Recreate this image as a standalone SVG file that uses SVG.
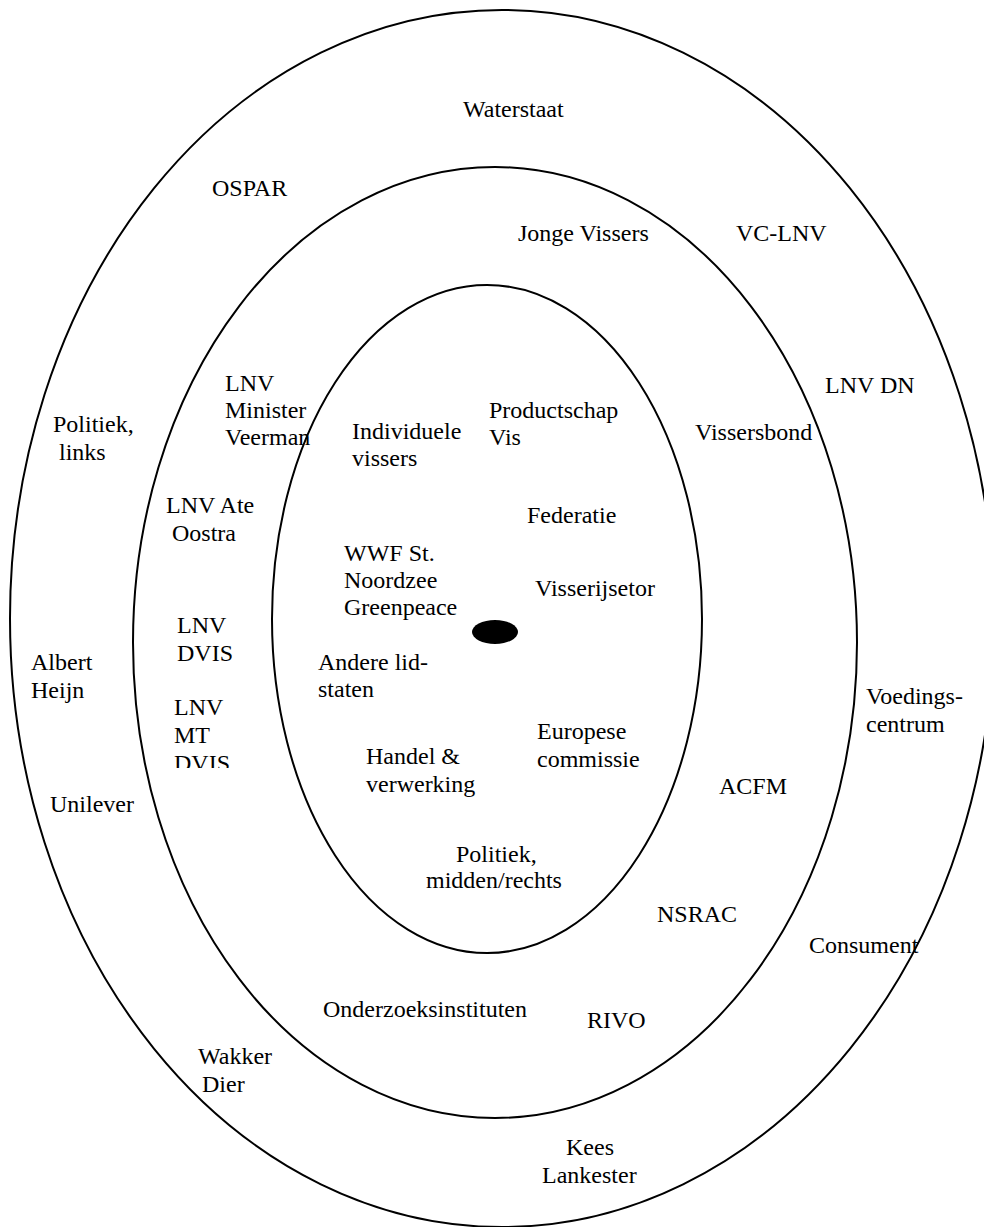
<svg xmlns="http://www.w3.org/2000/svg" width="984" height="1227" viewBox="0 0 984 1227">
<style>
.ring{fill:none;stroke:#000;stroke-width:2}
text{font-family:"Liberation Serif","Times New Roman",serif;font-size:24px;fill:#000}
</style>
<defs>
<clipPath id="clipMT"><rect x="150" y="690" width="120" height="78"/></clipPath>
</defs>
<rect width="984" height="1227" fill="#fff"/>
<g id="rings">
<ellipse id="ring-outer" class="ring" cx="502" cy="618.5" rx="492" ry="608.5"/>
<ellipse id="ring-middle" class="ring" cx="495" cy="642.5" rx="362" ry="475.5"/>
<ellipse id="ring-inner" class="ring" cx="487" cy="619" rx="215" ry="334"/>
<ellipse id="center-dot" cx="495" cy="632" rx="23" ry="12" fill="#000"/>
</g>
<g id="connectors"></g>
<g id="n-waterstaat"><text x="463" y="117">Waterstaat</text></g>
<g id="n-ospar"><text x="212" y="196">OSPAR</text></g>
<g id="n-jonge-vissers"><text x="518" y="241">Jonge Vissers</text></g>
<g id="n-vc-lnv"><text x="736" y="241">VC-LNV</text></g>
<g id="n-lnv-dn"><text x="825" y="393">LNV DN</text></g>
<g id="n-politiek-links"><text x="53" y="432">Politiek,</text><text x="59" y="460">links</text></g>
<g id="n-lnv-minister"><text x="225" y="391">LNV</text><text x="225" y="418">Minister</text><text x="225" y="445">Veerman</text></g>
<g id="n-individuele"><text x="352" y="439">Individuele</text><text x="352" y="466">vissers</text></g>
<g id="n-productschap"><text x="489" y="418">Productschap</text><text x="489" y="445">Vis</text></g>
<g id="n-vissersbond"><text x="695" y="440">Vissersbond</text></g>
<g id="n-lnv-ate"><text x="166" y="513">LNV Ate</text><text x="172" y="541">Oostra</text></g>
<g id="n-federatie"><text x="527" y="523">Federatie</text></g>
<g id="n-wwf"><text x="344" y="561">WWF St.</text><text x="344" y="588">Noordzee</text><text x="344" y="615">Greenpeace</text></g>
<g id="n-visserijsetor"><text x="535" y="596">Visserijsetor</text></g>
<g id="n-lnv-dvis"><text x="177" y="633">LNV</text><text x="177" y="661">DVIS</text></g>
<g id="n-albert-heijn"><text x="31" y="670">Albert</text><text x="31" y="698">Heijn</text></g>
<g id="n-andere"><text x="318" y="670">Andere lid-</text><text x="318" y="697">staten</text></g>
<g id="n-lnv-mt" clip-path="url(#clipMT)"><text x="174" y="715">LNV</text><text x="174" y="743">MT</text><text x="174" y="771">DVIS</text></g>
<g id="n-voedingscentrum"><text x="866" y="704">Voedings-</text><text x="866" y="732">centrum</text></g>
<g id="n-europese"><text x="537" y="739">Europese</text><text x="537" y="767">commissie</text></g>
<g id="n-handel"><text x="366" y="764">Handel &amp;</text><text x="366" y="792">verwerking</text></g>
<g id="n-acfm"><text x="719" y="794">ACFM</text></g>
<g id="n-unilever"><text x="50" y="812">Unilever</text></g>
<g id="n-politiek-mr"><text x="456" y="862">Politiek,</text><text x="426" y="888">midden/rechts</text></g>
<g id="n-nsrac"><text x="657" y="922">NSRAC</text></g>
<g id="n-consument"><text x="809" y="953">Consument</text></g>
<g id="n-onderzoek"><text x="323" y="1017">Onderzoeksinstituten</text></g>
<g id="n-rivo"><text x="587" y="1028">RIVO</text></g>
<g id="n-wakker-dier"><text x="198" y="1064">Wakker</text><text x="202" y="1092">Dier</text></g>
<g id="n-kees"><text x="566" y="1155">Kees</text><text x="542" y="1183">Lankester</text></g>
</svg>
